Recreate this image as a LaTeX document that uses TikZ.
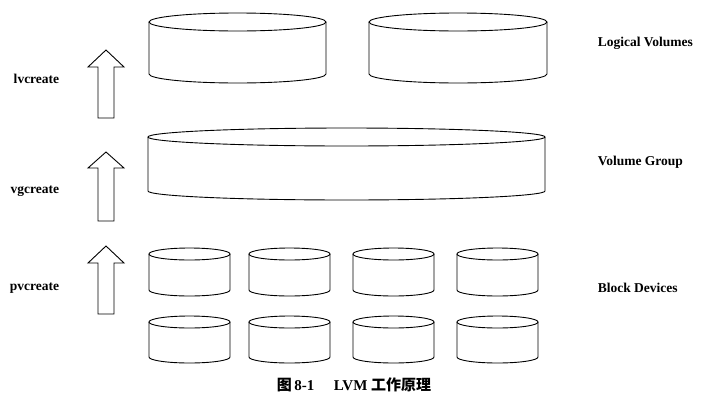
\documentclass[tikz,border=0pt]{standalone}
\usepackage{fontspec}
\setmainfont{Liberation Serif}
\newfontfamily\cjk{Noto Sans CJK SC}
\usepackage{tikz}
\usetikzlibrary{arrows}

\begin{document}
\begin{tikzpicture}[x=1pt,y=-1pt,line width=0.9pt,
    lbl/.style={font=\fontsize{13.5}{16}\selectfont\bfseries},
    caplbl/.style={font=\fontsize{15}{18}\selectfont\bfseries}]
    \useasboundingbox (0,0) rectangle (714,410);
    % drum: left x, right x, top centre y, bottom centre y, y radius
    \def\drum#1#2#3#4#5{
        \pgfmathsetmacro\rx{(#2-#1)/2}
        \draw (#1,#3) -- (#1,#4) arc[start angle=180, end angle=360, x radius=\rx pt, y radius=#5pt] -- (#2,#3);
        \draw ({(#1+#2)/2},#3) ellipse[x radius=\rx pt, y radius=#5pt];
    }
    % hollow up arrow: tip y, head base y, bottom y
    \def\uparr#1#2#3{
        \draw (98,#3) -- (98,#2) -- (88,#2) -- (106,#1) -- (124,#2) -- (114,#2) -- (114,#3) -- cycle;
    }
    \drum{149}{326}{22}{74}{9}
    \drum{369}{547}{22}{74}{9}
    \drum{148}{545}{137}{191}{9}
    \foreach \x in {149,249,353,457}{
        \drum{\x}{\x+81}{254}{290}{6}
        \drum{\x}{\x+81}{322}{357}{6}
    }
    \uparr{50}{67}{118}
    \uparr{152}{168}{221}
    \uparr{246}{263}{314}
    \node[lbl,anchor=east] (lvc) at (63,79) {lvcreate};
    \node[lbl,anchor=east] (vgc) at (63,191) {vgcreate};
    \node[lbl,anchor=east] (pvc) at (63,288) {pvcreate};
    \node[lbl,anchor=west] (lvs) at (594,43) {Logical Volumes};
    \node[lbl,anchor=west] (vgs) at (594,162) {Volume Group};
    \node[lbl,anchor=west] (bds) at (594,288) {Block Devices};
    \node[caplbl] (cap) at (354,385) {{\cjk 图}\,8-1\hspace{1.3em}LVM {\cjk 工作原理}};
\end{tikzpicture}
\end{document}
